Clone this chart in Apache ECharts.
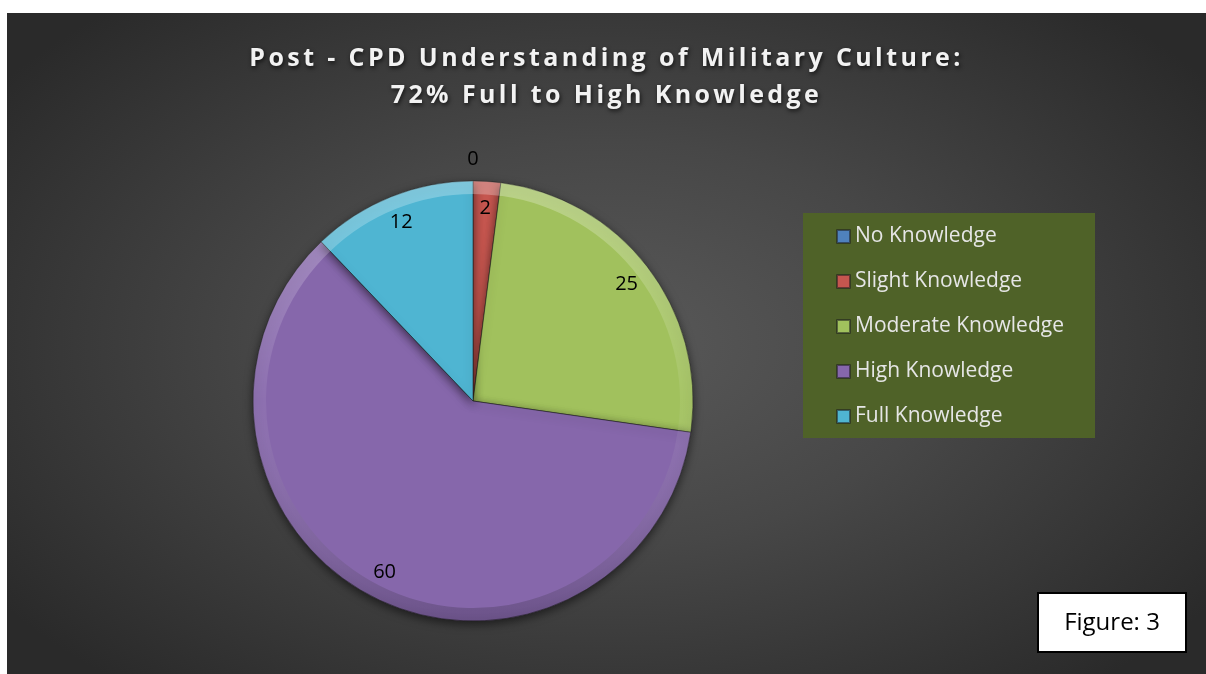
<!DOCTYPE html>
<html>
<head>
<meta charset="utf-8">
<script src="https://cdn.jsdelivr.net/npm/echarts@6/dist/echarts.min.js"></script>
<style>
  html, body { margin: 0; padding: 0; background: #fff; }
  #chart {
    position: absolute;
    left: 7px;
    top: 13px;
    width: 1199px;
    height: 661px;
    background: radial-gradient(ellipse 62% 68% at 50% 50%, #595959 0%, #474747 45%, #2a2a2a 100%);
  }
</style>
</head>
<body>
<div id="chart"></div>
<script>
  // values
  const categories = [
    "No Knowledge",
    "Slight Knowledge",
    "Moderate Knowledge",
    "High Knowledge",
    "Full Knowledge",
  ];
  const counts = [0, 2, 25, 60, 12];
  const sliceColors = ["#4f81bd", "#c5564f", "#a1c15d", "#8667ab", "#4fb5d2"];

  const titleText =
    "Post - CPD Understanding of Military Culture:\n72% Full to High Knowledge";

  const pieCenter = [466, 388];
  const pieRadius = 220;

  // the original title is letter-spaced; only bold text (the title) gets it
  const origFillText = CanvasRenderingContext2D.prototype.fillText;
  CanvasRenderingContext2D.prototype.fillText = function (text, x, y, maxW) {
    if ("letterSpacing" in this && this.font.indexOf("bold") >= 0) {
      const prev = this.letterSpacing;
      this.letterSpacing = "3.4px";
      const r = maxW === undefined
        ? origFillText.call(this, text, x, y)
        : origFillText.call(this, text, x, y, maxW);
      this.letterSpacing = prev;
      return r;
    }
    return maxW === undefined
      ? origFillText.call(this, text, x, y)
      : origFillText.call(this, text, x, y, maxW);
  };

  const slices = categories.map(function (name, i) {
    return { name: name, value: counts[i], itemStyle: { color: sliceColors[i] } };
  });

  // label ring: labels sit near the outer edge like the original
  const labelSlices = categories.map(function (name, i) {
    const item = { name: name, value: counts[i] };
    if (counts[i] === 0) item.label = { offset: [0, -49] };
    return item;
  });

  const chart = echarts.init(document.getElementById("chart"));

  const option = {
    backgroundColor: "transparent",
    animation: false,
    title: {
      text: titleText,
      left: "center",
      top: 27,
      padding: 0,
      textStyle: {
        color: "#f2f2f2",
        fontFamily: "Open Sans",
        fontWeight: "bold",
        fontSize: 25,
        lineHeight: 37,
        textShadowColor: "rgba(0,0,0,0.7)",
        textShadowBlur: 4,
        textShadowOffsetX: 1,
        textShadowOffsetY: 2,
      },
    },
    legend: {
      data: categories,
      orient: "vertical",
      left: 829,
      top: 213,
      padding: 0,
      itemGap: 24,
      itemWidth: 13,
      itemHeight: 13,
      icon: "rect",
      selectedMode: false,
      textStyle: {
        color: "#e6e6e6",
        fontFamily: "Open Sans",
        fontSize: 21,
        lineHeight: 21,
      },
    },
    graphic: [
      {
        type: "rect",
        left: 796,
        top: 200,
        z: -1,
        shape: { width: 292, height: 225 },
        style: { fill: "#4f6228" },
      },
      {
        type: "group",
        left: 1030,
        top: 579,
        children: [
          {
            type: "rect",
            shape: { x: 0, y: 0, width: 148, height: 59 },
            style: { fill: "#ffffff", stroke: "#000000", lineWidth: 2 },
          },
          {
            type: "text",
            x: 74,
            y: 30,
            style: {
              text: "Figure: 3",
              fill: "#000",
              fontFamily: "Open Sans",
              fontSize: 24,
              align: "center",
              verticalAlign: "middle",
            },
          },
        ],
      },
    ],
    series: [
      {
        name: "Post-CPD",
        type: "pie",
        center: pieCenter,
        radius: [0, pieRadius],
        startAngle: 90,
        clockwise: true,
        avoidLabelOverlap: false,
        label: { show: false },
        labelLine: { show: false },
        emphasis: { disabled: true },
        itemStyle: {
          borderColor: "rgba(30,30,30,0.55)",
          borderWidth: 1,
          shadowColor: "rgba(0,0,0,0.55)",
          shadowBlur: 10,
          shadowOffsetY: 3,
        },
        data: slices,
      },
      {
        // bevel rim
        name: "rim",
        type: "pie",
        center: pieCenter,
        radius: [pieRadius - 13, pieRadius],
        startAngle: 90,
        clockwise: true,
        silent: true,
        label: { show: false },
        labelLine: { show: false },
        emphasis: { disabled: true },
        itemStyle: {
          color: new echarts.graphic.LinearGradient(
            0, pieCenter[1] - pieRadius, 0, pieCenter[1] + pieRadius,
            [
              { offset: 0, color: "rgba(255,255,255,0.28)" },
              { offset: 0.5, color: "rgba(255,255,255,0.06)" },
              { offset: 1, color: "rgba(0,0,0,0.2)" },
            ],
            true
          ),
        },
        data: categories.map(function (name, i) {
          return { name: name, value: counts[i] };
        }),
      },
      {
        name: "labels",
        type: "pie",
        center: pieCenter,
        radius: [160, pieRadius],
        startAngle: 90,
        clockwise: true,
        silent: true,
        avoidLabelOverlap: false,
        itemStyle: { color: "rgba(0,0,0,0)" },
        emphasis: { disabled: true },
        labelLine: { show: false },
        label: {
          show: true,
          position: "inside",
          formatter: "{c}",
          color: "#000",
          fontFamily: "Open Sans",
          fontSize: 20,
        },
        data: labelSlices,
      },
    ],
  };

  chart.setOption(option);
</script>
</body>
</html>
